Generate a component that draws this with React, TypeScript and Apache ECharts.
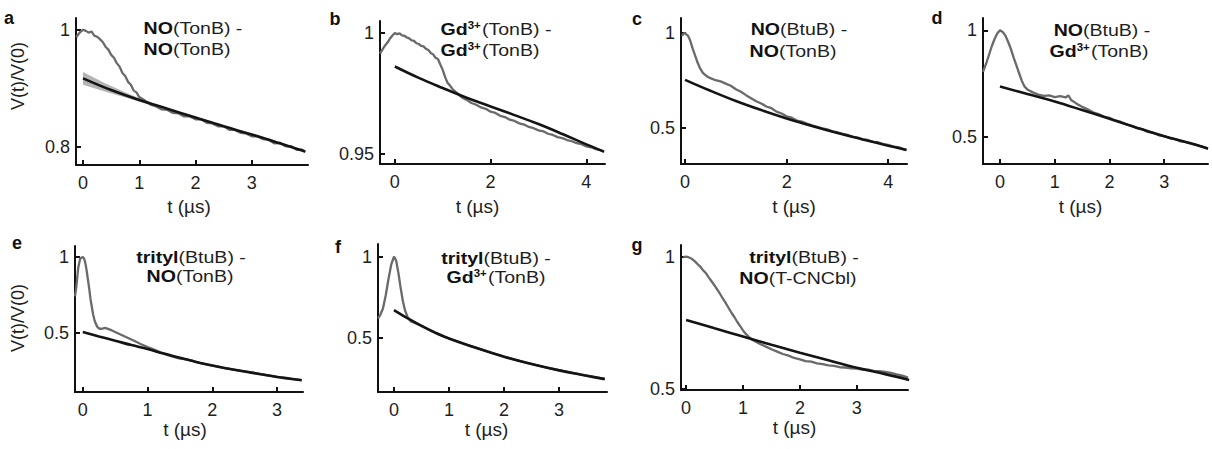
import React, { useEffect, useRef } from 'react';
import * as echarts from 'echarts';

// ---------- data (t in µs, V(t)/V(0)) ----------
const dataA: [number, number][] = [
  [-0.12, 0.987], [-0.1, 0.99], [-0.05, 0.996], [0, 1.0], [0.05, 0.998], [0.1, 0.995], [0.15, 0.997], [0.2, 0.99],
  [0.25, 0.988], [0.3, 0.984], [0.35, 0.979], [0.4, 0.971], [0.45, 0.966], [0.5, 0.957], [0.55, 0.952], [0.6, 0.943],
  [0.65, 0.937], [0.7, 0.926], [0.75, 0.921], [0.8, 0.911], [0.85, 0.906], [0.9, 0.896], [0.95, 0.893], [1.0, 0.885],
  [1.1, 0.879], [1.2, 0.872], [1.3, 0.869], [1.4, 0.864], [1.5, 0.863], [1.6, 0.858], [1.7, 0.857], [1.8, 0.852],
  [1.9, 0.852], [2.0, 0.847], [2.1, 0.847], [2.2, 0.841], [2.3, 0.84], [2.4, 0.835], [2.5, 0.835], [2.6, 0.829],
  [2.7, 0.829], [2.8, 0.824], [2.9, 0.823], [3.0, 0.818], [3.1, 0.818], [3.2, 0.813], [3.3, 0.812], [3.4, 0.806],
  [3.5, 0.807], [3.6, 0.801], [3.7, 0.801], [3.8, 0.795], [3.9, 0.795], [3.95, 0.791],
];
const fitA: [number, number][] = [
  [0, 0.917], [0.5, 0.897], [1, 0.88], [1.5, 0.865], [2, 0.85], [2.5, 0.835], [3, 0.821], [3.5, 0.806], [3.95, 0.792],
];
const bandLowA: [number, number][] = [
  [0, 0.906], [0.2, 0.9], [0.4, 0.894], [0.6, 0.8885], [0.8, 0.883], [1.0, 0.877], [1.2, 0.872], [1.4, 0.867],
];
const bandHighA: [number, number][] = [
  [0, 0.928], [0.2, 0.918], [0.4, 0.908], [0.6, 0.8995], [0.8, 0.891], [1.0, 0.883], [1.2, 0.876], [1.4, 0.869],
];

const dataB: [number, number][] = [
  [-0.31, 0.9915], [-0.25, 0.9935], [-0.2, 0.995], [-0.15, 0.9962], [-0.1, 0.9978], [-0.05, 0.999], [0, 1.0],
  [0.05, 0.9996], [0.1, 0.9999], [0.15, 0.9991], [0.2, 0.9989], [0.25, 0.9982], [0.3, 0.9978], [0.35, 0.997],
  [0.4, 0.9968], [0.45, 0.9958], [0.5, 0.9955], [0.55, 0.9947], [0.6, 0.9945], [0.65, 0.9935], [0.7, 0.993],
  [0.75, 0.9918], [0.8, 0.9912], [0.85, 0.9898], [0.9, 0.9893], [0.95, 0.987], [1.0, 0.9848], [1.05, 0.9818],
  [1.1, 0.9795], [1.15, 0.9784], [1.2, 0.977], [1.3, 0.9752], [1.4, 0.9734], [1.5, 0.9724], [1.6, 0.9711],
  [1.7, 0.9704], [1.8, 0.9693], [1.9, 0.9687], [2.0, 0.9675], [2.1, 0.967], [2.2, 0.9658], [2.3, 0.9653],
  [2.4, 0.9642], [2.5, 0.9637], [2.6, 0.9627], [2.7, 0.9622], [2.8, 0.9612], [2.9, 0.9607], [3.0, 0.9598],
  [3.1, 0.9594], [3.2, 0.9584], [3.3, 0.9579], [3.4, 0.957], [3.5, 0.9566], [3.6, 0.9558], [3.7, 0.9553],
  [3.8, 0.9545], [3.9, 0.9541], [4.0, 0.9532], [4.1, 0.9528], [4.2, 0.952], [4.3, 0.9516], [4.37, 0.9509],
];
const fitB: [number, number][] = [
  [0, 0.9862], [0.5, 0.9815], [1, 0.9773], [1.5, 0.9733], [2, 0.9697], [2.5, 0.9661], [3, 0.9624], [3.5, 0.9583],
  [4, 0.954], [4.37, 0.951],
];

const dataC: [number, number][] = [
  [-0.06, 0.985], [-0.03, 0.998], [0, 1.0], [0.03, 0.992], [0.06, 0.985], [0.1, 0.962], [0.15, 0.918], [0.2, 0.88],
  [0.25, 0.842], [0.3, 0.812], [0.35, 0.79], [0.4, 0.778], [0.45, 0.768], [0.5, 0.762], [0.6, 0.751], [0.7, 0.745],
  [0.8, 0.733], [0.9, 0.722], [1.0, 0.703], [1.1, 0.69], [1.2, 0.672], [1.3, 0.656], [1.4, 0.64], [1.5, 0.628],
  [1.6, 0.612], [1.7, 0.603], [1.8, 0.585], [1.9, 0.575], [2.0, 0.56], [2.1, 0.553], [2.2, 0.538], [2.3, 0.532],
  [2.4, 0.522], [2.5, 0.513], [2.6, 0.505], [2.7, 0.497], [2.8, 0.491], [2.9, 0.481], [3.0, 0.476], [3.1, 0.467],
  [3.2, 0.462], [3.3, 0.452], [3.4, 0.448], [3.5, 0.438], [3.6, 0.435], [3.7, 0.425], [3.8, 0.423], [3.9, 0.413],
  [4.0, 0.409], [4.1, 0.4], [4.2, 0.397], [4.3, 0.387], [4.36, 0.383],
];
const fitC: [number, number][] = [
  [0, 0.753], [0.5, 0.695], [1, 0.641], [1.5, 0.593], [2, 0.549], [2.5, 0.509], [3, 0.472], [3.5, 0.438], [4, 0.405],
  [4.36, 0.382],
];

const dataD: [number, number][] = [
  [-0.31, 0.805], [-0.25, 0.845], [-0.2, 0.885], [-0.15, 0.925], [-0.1, 0.958], [-0.05, 0.985], [0, 1.0],
  [0.05, 0.992], [0.1, 0.975], [0.15, 0.945], [0.2, 0.912], [0.25, 0.872], [0.3, 0.835], [0.35, 0.798],
  [0.4, 0.762], [0.45, 0.735], [0.5, 0.722], [0.6, 0.708], [0.7, 0.698], [0.8, 0.692], [0.9, 0.694], [1.0, 0.686],
  [1.1, 0.69], [1.2, 0.684], [1.25, 0.694], [1.3, 0.672], [1.4, 0.655], [1.5, 0.64], [1.6, 0.628], [1.7, 0.614],
  [1.8, 0.606], [1.9, 0.594], [2.0, 0.588], [2.1, 0.576], [2.2, 0.57], [2.3, 0.558], [2.4, 0.551], [2.5, 0.54],
  [2.6, 0.535], [2.7, 0.522], [2.8, 0.518], [2.9, 0.506], [3.0, 0.502], [3.1, 0.492], [3.2, 0.488], [3.3, 0.477],
  [3.4, 0.474], [3.5, 0.466], [3.6, 0.46], [3.7, 0.452], [3.8, 0.445],
];
const fitD: [number, number][] = [
  [0, 0.736], [0.5, 0.7], [1, 0.665], [1.5, 0.625], [2, 0.584], [2.5, 0.542], [3, 0.502], [3.5, 0.467], [3.8, 0.443],
];

const dataE: [number, number][] = [
  [-0.12, 0.74], [-0.1, 0.8], [-0.07, 0.93], [-0.04, 0.99], [-0.02, 0.995], [0, 1.0], [0.02, 0.99], [0.04, 0.96],
  [0.06, 0.91], [0.08, 0.85], [0.1, 0.79], [0.12, 0.72], [0.14, 0.67], [0.16, 0.62], [0.18, 0.585], [0.2, 0.56],
  [0.23, 0.535], [0.26, 0.526], [0.3, 0.526], [0.34, 0.532], [0.38, 0.527], [0.45, 0.515], [0.5, 0.505],
  [0.6, 0.485], [0.7, 0.465], [0.8, 0.445], [0.9, 0.424], [1.0, 0.405], [1.1, 0.388], [1.2, 0.37], [1.3, 0.353],
  [1.4, 0.34], [1.5, 0.328], [1.6, 0.323], [1.7, 0.313], [1.8, 0.3], [1.9, 0.292], [2.0, 0.283], [2.1, 0.275],
  [2.2, 0.265], [2.3, 0.259], [2.4, 0.25], [2.5, 0.245], [2.6, 0.237], [2.7, 0.23], [2.8, 0.222], [2.9, 0.215],
  [3.0, 0.208], [3.1, 0.203], [3.2, 0.196], [3.3, 0.191], [3.38, 0.186],
];
const fitE: [number, number][] = [
  [0, 0.504], [0.25, 0.475], [0.5, 0.447], [0.75, 0.418], [1, 0.392], [1.25, 0.362], [1.5, 0.335], [1.75, 0.307],
  [2, 0.283], [2.25, 0.262], [2.5, 0.244], [2.75, 0.225], [3, 0.207], [3.2, 0.196], [3.38, 0.186],
];

const dataF: [number, number][] = [
  [-0.29, 0.62], [-0.25, 0.64], [-0.2, 0.68], [-0.15, 0.76], [-0.1, 0.86], [-0.05, 0.95], [0, 1.0], [0.04, 0.975],
  [0.08, 0.9], [0.12, 0.81], [0.16, 0.73], [0.2, 0.67], [0.25, 0.625], [0.3, 0.603], [0.4, 0.588], [0.5, 0.574],
  [0.6, 0.556], [0.7, 0.538], [0.8, 0.523], [0.9, 0.508], [1.0, 0.496], [1.2, 0.472], [1.4, 0.449], [1.6, 0.427],
  [1.8, 0.405], [2.0, 0.385], [2.2, 0.366], [2.4, 0.348], [2.6, 0.331], [2.8, 0.315], [3.0, 0.301], [3.2, 0.287],
  [3.4, 0.274], [3.6, 0.262], [3.83, 0.247],
];
const fitF: [number, number][] = [
  [0, 0.671], [0.25, 0.62], [0.5, 0.573], [0.75, 0.532], [1, 0.496], [1.5, 0.437], [2, 0.384], [2.5, 0.339],
  [3, 0.3], [3.5, 0.267], [3.83, 0.246],
];

const dataG: [number, number][] = [
  [-0.05, 0.998], [0, 1.0], [0.05, 0.997], [0.1, 0.992], [0.15, 0.983], [0.2, 0.972], [0.25, 0.962], [0.3, 0.948],
  [0.35, 0.937], [0.4, 0.921], [0.45, 0.906], [0.5, 0.891], [0.55, 0.874], [0.6, 0.858], [0.65, 0.84], [0.7, 0.823],
  [0.75, 0.805], [0.8, 0.787], [0.85, 0.771], [0.9, 0.753], [0.95, 0.737], [1.0, 0.721], [1.05, 0.708], [1.1, 0.697],
  [1.15, 0.688], [1.2, 0.681], [1.3, 0.67], [1.4, 0.66], [1.5, 0.65], [1.6, 0.641], [1.7, 0.632], [1.8, 0.626],
  [1.9, 0.617], [2.0, 0.612], [2.1, 0.605], [2.2, 0.603], [2.3, 0.597], [2.4, 0.594], [2.5, 0.589], [2.6, 0.587],
  [2.7, 0.582], [2.8, 0.581], [2.9, 0.578], [3.0, 0.577], [3.1, 0.573], [3.2, 0.573], [3.3, 0.568], [3.4, 0.567],
  [3.5, 0.564], [3.6, 0.561], [3.7, 0.555], [3.8, 0.55], [3.9, 0.543],
];
const fitG: [number, number][] = [
  [0, 0.761], [0.5, 0.729], [1, 0.698], [1.5, 0.667], [2, 0.637], [2.5, 0.608], [3, 0.58], [3.5, 0.556], [3.92, 0.534],
];

// tick labels
const xTicks0123 = [0, 1, 2, 3];
const xTicks024 = [0, 2, 4];
const yTicksA = [0.8, 1];
const yTicksB = [0.95, 1];
const yTicksHalf = [0.5, 1];

// panel titles: [bold part, superscript, regular part]
const titles: [string, string, string][][] = [
  [['NO', '', '(TonB) -'], ['NO', '', '(TonB)']],
  [['Gd', '3+', '(TonB) -'], ['Gd', '3+', '(TonB)']],
  [['NO', '', '(BtuB) -'], ['NO', '', '(TonB)']],
  [['NO', '', '(BtuB) -'], ['Gd', '3+', '(TonB)']],
  [['trityl', '', '(BtuB) -'], ['NO', '', '(TonB)']],
  [['trityl', '', '(BtuB) -'], ['Gd', '3+', '(TonB)']],
  [['trityl', '', '(BtuB) -'], ['NO', '', '(T-CNCbl)']],
];
const letters = ['a', 'b', 'c', 'd', 'e', 'f', 'g'];

const FONT = 'Arial, "Liberation Sans", Helvetica, sans-serif';
const TXT = '#1e1e1e';

interface Panel {
  grid: { left: number; top: number; width: number; height: number };
  x: [number, number];
  y: [number, number];
  xTicks: number[];
  yTicks: number[];
  data: [number, number][];
  fit: [number, number][];
  letterPos: [number, number];
  t1: [number, number];
  t2: [number, number];
  nameShift: number;
  nameGap: number;
}

const panels: Panel[] = [
  { grid: { left: 76, top: 18, width: 232, height: 147 }, x: [-0.125, 4.0], y: [0.769, 1.02], xTicks: xTicks0123, yTicks: yTicksA, data: dataA, fit: fitA, letterPos: [9, 18], t1: [193, 28], t2: [187, 49], nameShift: -3, nameGap: 32 },
  { grid: { left: 380, top: 21, width: 225, height: 143 }, x: [-0.31, 4.39], y: [0.9459, 1.005], xTicks: xTicks024, yTicks: yTicksB, data: dataB, fit: fitB, letterPos: [335, 19], t1: [496, 29], t2: [490, 50], nameShift: -15, nameGap: 33 },
  { grid: { left: 681, top: 18, width: 226, height: 146 }, x: [-0.08, 4.37], y: [0.308, 1.08], xTicks: xTicks024, yTicks: yTicksHalf, data: dataC, fit: fitC, letterPos: [637, 19], t1: [799, 29], t2: [793, 51], nameShift: 0, nameGap: 33 },
  { grid: { left: 983, top: 18, width: 225, height: 146 }, x: [-0.31, 3.8], y: [0.371, 1.058], xTicks: xTicks0123, yTicks: yTicksHalf, data: dataD, fit: fitD, letterPos: [937, 18], t1: [1102, 30], t2: [1099, 51], nameShift: -15, nameGap: 33 },
  { grid: { left: 75, top: 246, width: 228, height: 146 }, x: [-0.12, 3.4], y: [0.108, 1.073], xTicks: xTicks0123, yTicks: yTicksHalf, data: dataE, fit: fitE, letterPos: [17, 243], t1: [191, 257], t2: [190, 276], nameShift: -4, nameGap: 25 },
  { grid: { left: 378, top: 244, width: 229, height: 148 }, x: [-0.29, 3.87], y: [0.167, 1.077], xTicks: xTicks0123, yTicks: yTicksHalf, data: dataF, fit: fitF, letterPos: [338, 247], t1: [496, 258], t2: [496, 277], nameShift: -6, nameGap: 25 },
  { grid: { left: 681, top: 245, width: 227, height: 145 }, x: [-0.09, 3.9], y: [0.496, 1.044], xTicks: xTicks0123, yTicks: yTicksHalf, data: dataG, fit: fitG, letterPos: [637, 245], t1: [804, 257], t2: [798, 278], nameShift: 0, nameGap: 26 },
];

const fmt = (v: number) => String(Math.round(v * 1000) / 1000);

function titleText(parts: [string, string, string]) {
  const [b, s, r] = parts;
  return `{b|${b}}` + (s ? `{s|${s}}` : '') + `{r|${r}}`;
}

export default function App() {
  const ref = useRef<HTMLDivElement>(null);

  useEffect(() => {
    if (!ref.current) return;
    const chart = echarts.init(ref.current, null, { renderer: 'svg' });

    const grid: any[] = [];
    const xAxis: any[] = [];
    const yAxis: any[] = [];
    const series: any[] = [];
    const graphic: any[] = [];

    const axisLine = { show: true, onZero: false, lineStyle: { color: '#111', width: 2 } };
    const axisTickBase = { show: true, inside: true, length: 5, lineStyle: { color: '#111', width: 2 } };

    panels.forEach((p, i) => {
      grid.push({ ...p.grid, containLabel: false });
      xAxis.push({
        type: 'value', gridIndex: i, min: p.x[0], max: p.x[1],
        axisLine, axisTick: { ...axisTickBase, customValues: p.xTicks },
        axisLabel: { customValues: p.xTicks, formatter: fmt, fontSize: 18, color: TXT, fontFamily: FONT, margin: 9 },
        splitLine: { show: false },
        name: 't (µs)', nameLocation: 'middle', nameGap: p.nameGap,
        nameTextStyle: {
          fontSize: 19, color: TXT, fontFamily: FONT,
          padding: p.nameShift < 0 ? [0, -2 * p.nameShift, 0, 0] : [0, 0, 0, 2 * p.nameShift],
        },
      });
      yAxis.push({
        type: 'value', gridIndex: i, min: p.y[0], max: p.y[1],
        axisLine, axisTick: { ...axisTickBase, customValues: p.yTicks },
        axisLabel: { customValues: p.yTicks, formatter: fmt, fontSize: 18, color: TXT, fontFamily: FONT, margin: 6 },
        splitLine: { show: false },
      });

      if (i === 0) {
        series.push({
          type: 'custom', xAxisIndex: 0, yAxisIndex: 0, silent: true, z: 1,
          data: [[0, 0.9]],
          renderItem: (_params: any, api: any) => {
            const pts = [
              ...bandHighA.map((q) => api.coord(q)),
              ...bandLowA.slice().reverse().map((q) => api.coord(q)),
            ];
            return { type: 'polygon', shape: { points: pts }, style: { fill: '#b4b4b4' } };
          },
        });
      }

      series.push({
        type: 'line', xAxisIndex: i, yAxisIndex: i, data: p.data, showSymbol: false, silent: true, z: 2,
        lineStyle: { color: '#6a6a6a', width: 2.3 },
      });
      series.push({
        type: 'line', xAxisIndex: i, yAxisIndex: i, data: p.fit, showSymbol: false, silent: true, z: 3,
        smooth: 0.4, lineStyle: { color: '#141414', width: 2.6 },
      });

      graphic.push({
        type: 'text', x: p.letterPos[0], y: p.letterPos[1], silent: true,
        style: { text: letters[i], fontSize: 18, fontWeight: 'bold', fontFamily: FONT, fill: '#111', align: 'center', verticalAlign: 'middle' },
      });

      const rich = {
        b: { fontSize: 17, fontWeight: 'bold', fontFamily: FONT, fill: '#111' },
        s: { fontSize: 10, fontWeight: 'bold', fontFamily: FONT, fill: '#111', verticalAlign: 'top', padding: [0, 1, 0, 0] },
        r: { fontSize: 17, fontFamily: FONT, fill: '#1e1e1e' },
      };
      [p.t1, p.t2].forEach((pos, li) => {
        graphic.push({
          type: 'text', x: pos[0], y: pos[1], scaleX: 1.15, silent: true,
          style: {
            text: titleText(titles[i][li]), rich, fontSize: 17, fontFamily: FONT, fill: '#111',
            align: 'center', verticalAlign: 'middle',
          },
        });
      });
    });

    [[18, 76], [18, 318]].forEach(([x, y]) => {
      graphic.push({
        type: 'text', x, y, rotation: Math.PI / 2, silent: true,
        style: { text: 'V(t)/V(0)', fontSize: 18, fontFamily: FONT, fill: TXT, align: 'center', verticalAlign: 'middle' },
      });
    });

    chart.setOption({
      animation: false,
      backgroundColor: '#ffffff',
      grid, xAxis, yAxis, series, graphic,
    });

    return () => chart.dispose();
  }, []);

  return <div ref={ref} style={{ position: 'fixed', left: 0, top: 0, width: 1212, height: 449 }} />;
}
